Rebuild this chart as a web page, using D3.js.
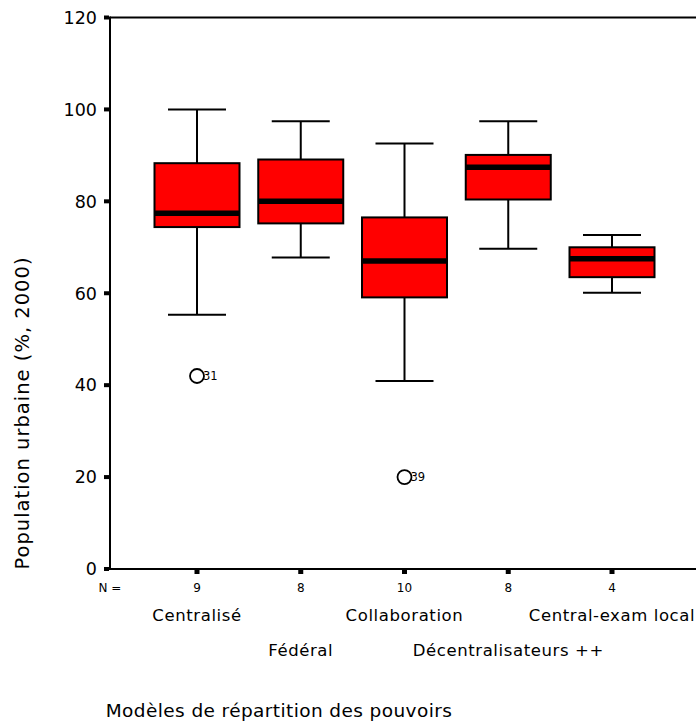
<!DOCTYPE html>
<html><head><meta charset="utf-8">
<script src="https://cdn.jsdelivr.net/npm/d3@7"></script>
<style>body{margin:0;background:#fff}svg{display:block}</style>
</head><body>
<script>
const categories = ["Centralisé","Fédéral","Collaboration","Décentralisateurs ++","Central-exam local"];
const counts = [9, 8, 10, 8, 4];
const whiskerLow  = [55.3, 67.8, 40.9, 69.7, 60.1];
const q1          = [74.4, 75.2, 59.1, 80.4, 63.5];
const median      = [77.4, 80.0, 67.0, 87.4, 67.5];
const q3          = [88.3, 89.1, 76.5, 90.1, 70.0];
const whiskerHigh = [100.0, 97.4, 92.6, 97.4, 72.7];
const outlierCat  = ["Centralisé", "Collaboration"];
const outlierVal  = [42.0, 20.0];
const outlierId   = ["31", "39"];
const yTicks = [0, 20, 40, 60, 80, 100, 120];

const W = 696, H = 725;
const svg = d3.select("body").append("svg").attr("width", W).attr("height", H);
const font = "'DejaVu Sans', Verdana, sans-serif";

const y = d3.scaleLinear().domain([0, 120]).range([569, 17.5]);
const x = d3.scalePoint().domain(categories).range([197, 612]);
const boxW = 85, capW = 58;
const axisX = 110;

// frame top line and axes
svg.append("line").attr("x1", axisX).attr("x2", W + 5).attr("y1", y(120)).attr("y2", y(120))
  .attr("stroke", "#000").attr("stroke-width", 2);
svg.append("line").attr("x1", axisX).attr("x2", W + 5).attr("y1", y(0)).attr("y2", y(0))
  .attr("stroke", "#000").attr("stroke-width", 2);
svg.append("line").attr("x1", axisX).attr("x2", axisX).attr("y1", y(0) + 1).attr("y2", y(120) - 1)
  .attr("stroke", "#000").attr("stroke-width", 2);

// y ticks
const yt = svg.append("g");
yTicks.forEach(t => {
  yt.append("rect").attr("x", axisX - 6).attr("y", y(t) - 2).attr("width", 5).attr("height", 4).attr("fill", "#000");
  yt.append("text").attr("x", 97).attr("y", y(t)).attr("dy", "0.36em").attr("text-anchor", "end")
    .attr("font-family", font).attr("font-size", 17.5).text(t);
});

// x ticks and N labels
categories.forEach((c, i) => {
  svg.append("rect").attr("x", x(c) - 2.5).attr("y", y(0) + 1).attr("width", 5).attr("height", 4).attr("fill", "#000");
  svg.append("text").attr("x", x(c)).attr("y", 592).attr("text-anchor", "middle")
    .attr("font-family", font).attr("font-size", 12).text(counts[i]);
  svg.append("text").attr("x", x(c)).attr("y", i % 2 === 0 ? 621 : 656).attr("text-anchor", "middle")
    .attr("font-family", font).attr("font-size", 16.5).attr("letter-spacing", 0.6).text(c);
});
svg.append("text").attr("x", 110).attr("y", 592).attr("text-anchor", "middle")
  .attr("font-family", font).attr("font-size", 12).text("N =");

// boxes
const g = svg.append("g");
categories.forEach((c, i) => {
  const cx = x(c);
  g.append("line").attr("x1", cx).attr("x2", cx).attr("y1", y(whiskerHigh[i])).attr("y2", y(q3[i]))
    .attr("stroke", "#000").attr("stroke-width", 2);
  g.append("line").attr("x1", cx).attr("x2", cx).attr("y1", y(q1[i])).attr("y2", y(whiskerLow[i]))
    .attr("stroke", "#000").attr("stroke-width", 2);
  g.append("line").attr("x1", cx - capW / 2).attr("x2", cx + capW / 2).attr("y1", y(whiskerHigh[i])).attr("y2", y(whiskerHigh[i]))
    .attr("stroke", "#000").attr("stroke-width", 2);
  g.append("line").attr("x1", cx - capW / 2).attr("x2", cx + capW / 2).attr("y1", y(whiskerLow[i])).attr("y2", y(whiskerLow[i]))
    .attr("stroke", "#000").attr("stroke-width", 2);
  g.append("rect").attr("x", cx - boxW / 2).attr("y", y(q3[i])).attr("width", boxW).attr("height", y(q1[i]) - y(q3[i]))
    .attr("fill", "#ff0000").attr("stroke", "#000").attr("stroke-width", 2);
  g.append("line").attr("x1", cx - boxW / 2).attr("x2", cx + boxW / 2).attr("y1", y(median[i])).attr("y2", y(median[i]))
    .attr("stroke", "#000").attr("stroke-width", 5.5);
});

// outliers
outlierCat.forEach((c, i) => {
  const cx = x(c), cy = y(outlierVal[i]);
  g.append("circle").attr("cx", cx).attr("cy", cy).attr("r", 7).attr("fill", "none").attr("stroke", "#000").attr("stroke-width", 1.8);
  g.append("text").attr("x", cx + 6).attr("y", cy).attr("dy", "0.35em").attr("font-family", font).attr("font-size", 11.5).text(outlierId[i]);
});

// axis titles
svg.append("text").attr("transform", `translate(29,${413}) rotate(-90)`).attr("text-anchor", "middle")
  .attr("font-family", font).attr("font-size", 19.5).attr("letter-spacing", 1)
  .text("Population urbaine (%, 2000)");
svg.append("text").attr("x", 279).attr("y", 717).attr("text-anchor", "middle")
  .attr("font-family", font).attr("font-size", 18.5).attr("letter-spacing", 0.4)
  .text("Modèles de répartition des pouvoirs");
</script>
</body></html>
